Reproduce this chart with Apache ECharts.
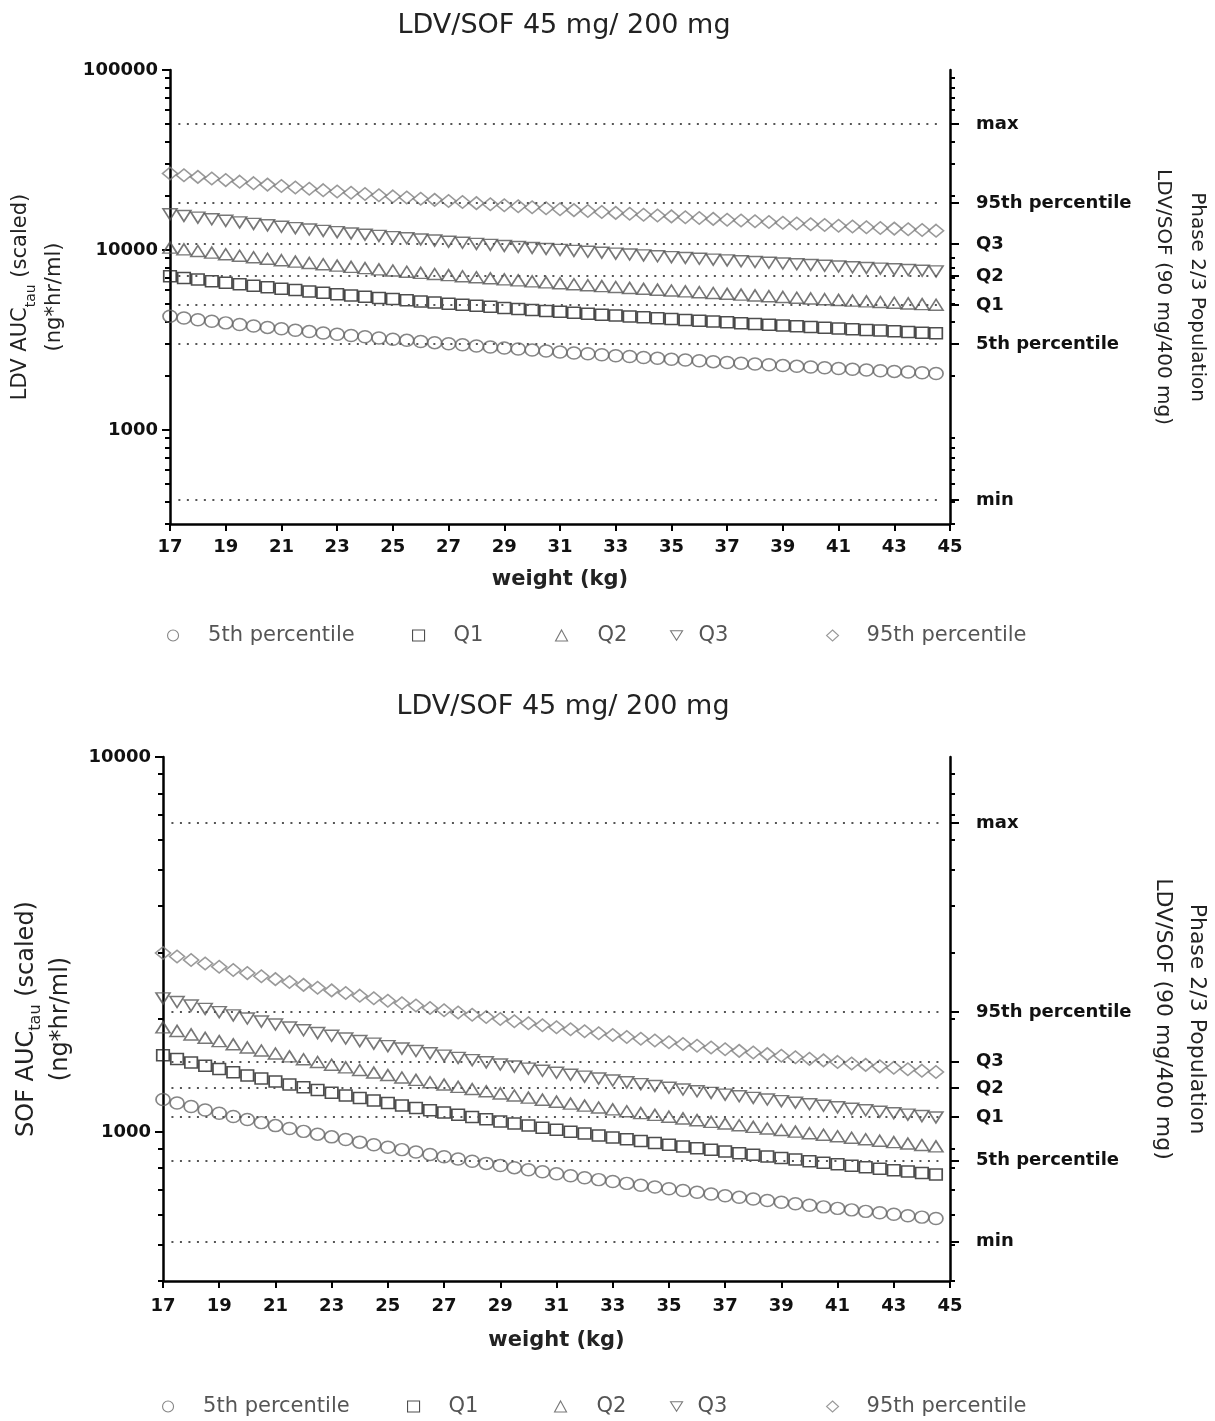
<!DOCTYPE html>
<html>
<head>
<meta charset="utf-8">
<script src="https://cdn.jsdelivr.net/npm/echarts@6/dist/echarts.min.js"></script>
<style>html,body{margin:0;padding:0;background:#fff}#c{width:1215px;height:1421px}</style>
</head>
<body>
<div id="c"></div>
<script>
// ---------- DATA ----------
const weights = [17,17.5,18,18.5,19,19.5,20,20.5,21,21.5,22,22.5,23,23.5,24,24.5,25,25.5,26,26.5,27,27.5,28,28.5,29,29.5,30,30.5,31,31.5,32,32.5,33,33.5,34,34.5,35,35.5,36,36.5,37,37.5,38,38.5,39,39.5,40,40.5,41,41.5,42,42.5,43,43.5,44,44.5];
const seriesNames = ['5th percentile','Q1','Q2','Q3','95th percentile'];
const xTickLabels = [17,19,21,23,25,27,29,31,33,35,37,39,41,43,45];

// Top chart: LDV AUCtau (scaled)
const ldvP5 = [4280,4187,4098,4014,3933,3856,3783,3712,3645,3580,3518,3459,3402,3346,3293,3242,3193,3145,3099,3054,3011,2970,2929,2890,2852,2815,2780,2745,2711,2678,2647,2616,2585,2556,2527,2499,2472,2446,2420,2395,2370,2346,2323,2300,2277,2255,2234,2213,2192,2172,2152,2133,2114,2096,2078,2060];
const ldvQ1 = [7150,6994,6846,6705,6570,6442,6319,6202,6089,5981,5878,5778,5682,5590,5502,5416,5334,5254,5177,5103,5031,4961,4893,4828,4765,4703,4643,4585,4529,4474,4421,4369,4319,4270,4222,4176,4130,4086,4043,4000,3959,3919,3880,3842,3804,3767,3732,3696,3662,3629,3596,3564,3532,3501,3471,3441];
const ldvQ2 = [10300,10076,9862,9659,9465,9280,9103,8934,8772,8616,8467,8324,8186,8053,7925,7802,7683,7569,7458,7350,7247,7146,7049,6955,6864,6775,6689,6606,6525,6446,6369,6294,6222,6151,6082,6015,5950,5886,5824,5763,5704,5646,5589,5534,5480,5427,5376,5325,5276,5227,5180,5134,5088,5044,5000,4957];
const ldvQ3 = [15800,15456,15128,14817,14519,14236,13964,13705,13456,13217,12989,12769,12557,12354,12158,11968,11786,11610,11440,11276,11116,10963,10814,10669,10529,10393,10261,10133,10009,9887,9770,9656,9544,9436,9330,9227,9127,9029,8933,8840,8749,8660,8574,8489,8406,8325,8246,8168,8093,8018,7946,7875,7805,7737,7670,7604];
const ldvP95 = [26600,26020,25469,24944,24444,23966,23509,23072,22653,22252,21867,21496,21140,20798,20468,20149,19842,19546,19260,18983,18715,18456,18205,17962,17726,17497,17275,17059,16850,16646,16448,16256,16068,15885,15708,15534,15365,15201,15040,14883,14730,14580,14434,14292,14152,14016,13882,13752,13624,13500,13377,13257,13140,13025,12912,12802];
const ldvRefLabels = ['max','95th percentile','Q3','Q2','Q1','5th percentile','min'];
const ldvRefValues = [50000,18250,10800,7170,4950,3000,408];
const ldvMajorTicks = [1000,10000,100000];
const ldvMinorTicks = [300,400,500,600,700,800,900,2000,3000,4000,5000,6000,7000,8000,9000,20000,30000,40000,50000,60000,70000,80000,90000];

// Bottom chart: SOF AUCtau (scaled)
const sofP5 = [1220,1193.4,1168.1,1144.1,1121.1,1099.2,1078.2,1058.2,1039,1020.6,1002.9,985.9,969.6,953.9,938.7,924.1,910.1,896.5,883.3,870.6,858.4,846.5,835,823.8,813,802.5,792.3,782.4,772.8,763.5,754.4,745.6,736.9,728.6,720.4,712.5,704.7,697.2,689.8,682.6,675.6,668.7,662,655.5,649.1,642.8,636.7,630.7,624.9,619.2,613.5,608,602.7,597.4,592.2,587.2];
const sofQ1 = [1600,1565.1,1532,1500.4,1470.3,1441.6,1414.1,1387.8,1362.6,1338.5,1315.3,1293,1271.6,1251,1231.1,1212,1193.5,1175.7,1158.5,1141.8,1125.7,1110.1,1095,1080.4,1066.2,1052.4,1039.1,1026.1,1013.5,1001.3,989.4,977.8,966.5,955.5,944.8,934.4,924.2,914.3,904.6,895.2,886,877,868.2,859.6,851.2,843.1,835,827.2,819.5,812,804.6,797.4,790.4,783.5,776.7,770];
const sofQ2 = [1900,1858.6,1819.2,1781.7,1746,1711.9,1679.2,1648,1618.1,1589.4,1561.9,1535.4,1510,1485.6,1462,1439.2,1417.3,1396.1,1375.7,1355.9,1336.8,1318.3,1300.4,1283,1266.1,1249.8,1233.9,1218.5,1203.6,1189,1174.9,1161.1,1147.7,1134.7,1122,1109.6,1097.5,1085.8,1074.3,1063.1,1052.1,1041.4,1031,1020.8,1010.9,1001.1,991.6,982.3,973.2,964.3,955.5,947,938.6,930.4,922.3,914.4];
const sofQ3 = [2270,2220.5,2173.5,2128.7,2086,2045.2,2006.2,1969,1933.2,1898.9,1866.1,1834.5,1804.1,1774.8,1746.7,1719.5,1693.3,1668,1643.6,1620,1597.1,1575,1553.6,1532.8,1512.7,1493.2,1474.2,1455.8,1437.9,1420.5,1403.7,1387.2,1371.2,1355.6,1340.5,1325.7,1311.2,1297.2,1283.5,1270.1,1257,1244.3,1231.8,1219.6,1207.7,1196.1,1184.7,1173.6,1162.7,1152,1141.6,1131.4,1121.4,1111.6,1101.9,1092.5];
const sofP95 = [3000,2934.6,2872.5,2813.3,2756.9,2702.9,2651.4,2602.1,2554.9,2509.6,2466.2,2424.4,2384.3,2345.6,2308.4,2272.5,2237.9,2204.4,2172.1,2140.9,2110.7,2081.5,2053.2,2025.8,1999.1,1973.3,1948.3,1924,1900.4,1877.4,1855.1,1833.3,1812.2,1791.6,1771.5,1752,1732.9,1714.4,1696.2,1678.5,1661.3,1644.4,1627.9,1611.8,1596.1,1580.7,1565.7,1551,1536.6,1522.5,1508.7,1495.2,1482,1469,1456.3,1443.8];
const sofRefLabels = ['max','95th percentile','Q3','Q2','Q1','5th percentile','min'];
const sofRefValues = [6670,2090,1538,1309,1096,837,509];
const sofMajorTicks = [1000,10000];
const sofMinorTicks = [400,500,600,700,800,900,2000,3000,4000,5000,6000,7000,8000,9000];

// ---------- STYLE / LAYOUT ----------
const FONT = 'DejaVu Sans';
const refSpan = [17.3, 44.7];
const markers = [
  {symbol:'circle', size:[14,12], color:'#666'},
  {symbol:'rect', size:[12.5,11], color:'#222'},
  {symbol:'triangle', size:[14,11], color:'#555'},
  {symbol:'path://M0,0 L10,0 L5,8 Z', size:[14,11], color:'#555'},
  {symbol:'diamond', size:[15,12.5], color:'#808080'}
];

function nearestLabel(v, vals, labels) {
  let bi = 0, bd = Infinity;
  vals.forEach((x, i) => { const d = Math.abs(Math.log(x) - Math.log(v)); if (d < bd) { bd = d; bi = i; } });
  return labels[bi];
}

const option = { animation:false, title:[], grid:[], xAxis:[], yAxis:[], series:[], legend:[] };

function addChart(cfg) {
  const g = option.grid.length;
  option.grid.push({ left: cfg.grid[0], top: cfg.grid[1], width: cfg.grid[2], height: cfg.grid[3],
    containLabel: false, outerBoundsMode: 'none' });
  option.title.push({ text: 'LDV/SOF 45 mg/ 200 mg', left: cfg.titlePos[0], top: cfg.titlePos[1], textAlign: 'center',
    textStyle: { fontFamily: FONT, fontWeight: 'normal', fontSize: 27, color: '#222' } });
  option.xAxis.push({
    gridIndex: g, type: 'value', min: 17, max: 45, interval: 2,
    axisLine: { onZero: false, lineStyle: { color: '#000', width: 2.5 } },
    axisTick: { length: 7, lineStyle: { color: '#000', width: 2 } },
    axisLabel: { margin: cfg.xLabelMargin, color: '#111', fontFamily: FONT, fontWeight: 'bold', fontSize: 18,
      formatter: v => (xTickLabels.indexOf(v) >= 0 ? String(v) : '') },
    splitLine: { show: false },
    name: 'weight (kg)', nameLocation: 'middle', nameGap: cfg.xNameGap,
    nameTextStyle: { fontFamily: FONT, fontWeight: 'bold', fontSize: 21, color: '#222' }
  });
  const y0 = option.yAxis.length;
  const common = { gridIndex: g, type: 'log', logBase: 10, min: cfg.min, max: cfg.max, splitLine: { show: false } };
  option.yAxis.push(Object.assign({}, common, {
    position: 'left',
    axisLine: { show: true, lineStyle: { color: '#000', width: 2.5 } },
    axisTick: { show: true, length: 8, lineStyle: { color: '#000', width: 2 }, customValues: cfg.major },
    axisLabel: { customValues: cfg.major, margin: 12, color: '#111', fontFamily: FONT, fontWeight: 'bold', fontSize: 18,
      formatter: v => String(Math.round(v)) },
    name: cfg.leftName, nameLocation: 'middle', nameGap: cfg.leftGap, nameRotate: 90,
    nameTextStyle: { fontFamily: FONT, fontSize: cfg.nameSize, color: '#222', lineHeight: 34,
      rich: { n: { fontFamily: FONT, fontSize: cfg.nameSize, color: '#222', lineHeight: 34 },
              s: { fontFamily: FONT, fontSize: Math.round(cfg.nameSize * 0.68), color: '#222', lineHeight: 16, verticalAlign: 'bottom' } } }
  }));
  option.yAxis.push(Object.assign({}, common, {
    position: 'left', axisLine: { show: false },
    axisTick: { show: true, length: 5, lineStyle: { color: '#000', width: 2 }, customValues: cfg.minor },
    axisLabel: { show: false }
  }));
  option.yAxis.push(Object.assign({}, common, {
    position: 'right',
    axisLine: { show: true, lineStyle: { color: '#000', width: 2.5 } },
    axisTick: { show: true, length: 9, lineStyle: { color: '#000', width: 2 }, customValues: cfg.refValues },
    axisLabel: { customValues: cfg.refValues, margin: 26, color: '#111', fontFamily: FONT, fontWeight: 'bold', fontSize: 18,
      formatter: v => nearestLabel(v, cfg.refValues, cfg.refLabels) },
    name: 'Phase 2/3 Population\nLDV/SOF (90 mg/400 mg)', nameLocation: 'middle', nameGap: cfg.rightGap, nameRotate: -90,
    nameTextStyle: { fontFamily: FONT, fontSize: cfg.rNameSize, color: '#222', lineHeight: 34 }
  }));
  option.yAxis.push(Object.assign({}, common, {
    position: 'right', axisLine: { show: false },
    axisTick: { show: true, length: 5, lineStyle: { color: '#000', width: 2 }, customValues: cfg.minor },
    axisLabel: { show: false }
  }));
  cfg.values.forEach((arr, k) => {
    const m = markers[k];
    const s = {
      type: 'scatter', name: seriesNames[k], xAxisIndex: g, yAxisIndex: y0, silent: true,
      data: weights.map((w, i) => [w, arr[i]]),
      symbol: m.symbol, symbolSize: m.size,
      itemStyle: { color: 'rgba(0,0,0,0)', borderColor: m.color, borderWidth: 1.6 },
      emphasis: { disabled: true }
    };
    if (k === 0) {
      s.markLine = {
        silent: true, symbol: ['none', 'none'], label: { show: false },
        lineStyle: { type: [2, 6.5], color: '#555', width: 1.8 },
        data: cfg.refValues.map(v => [{ coord: [refSpan[0], v] }, { coord: [refSpan[1], v] }])
      };
    }
    option.series.push(s);
  });
  cfg.legendCenters.forEach((c, k) => {
    option.legend.push({
      data: [seriesNames[k]], left: c - 6, top: cfg.legendTop, padding: 0,
      itemWidth: 12, itemHeight: 11, selectedMode: false,
      itemStyle: { borderWidth: 1.1 },
      textStyle: { fontFamily: FONT, fontSize: 21, color: '#555', padding: [0, 0, 0, cfg.legendText[k] - (c + 11)] }
    });
  });
}

addChart({
  grid: [170, 70, 780, 454], titlePos: [559, 7],
  min: 300, max: 100000, major: ldvMajorTicks, minor: ldvMinorTicks,
  refValues: ldvRefValues, refLabels: ldvRefLabels,
  values: [ldvP5, ldvQ1, ldvQ2, ldvQ3, ldvP95],
  leftName: '{n|LDV AUC}{s|tau}{n| (scaled)}\n{n|(ng*hr/ml)}', nameSize: 21, leftGap: 96,
  rightGap: 196, rNameSize: 20,
  xNameGap: 45, xLabelMargin: 14,
  legendCenters: [173, 418, 561, 676, 832], legendText: [208, 453, 597, 698, 866], legendTop: 625
});
addChart({
  grid: [163, 757, 787, 524], titlePos: [558, 688],
  min: 400, max: 10000, major: sofMajorTicks, minor: sofMinorTicks,
  refValues: sofRefValues, refLabels: sofRefLabels,
  values: [sofP5, sofQ1, sofQ2, sofQ3, sofP95],
  leftName: '{n|SOF AUC}{s|tau}{n| (scaled)}\n{n|(ng*hr/ml)}', nameSize: 24, leftGap: 85,
  rightGap: 196, rNameSize: 22,
  xNameGap: 49, xLabelMargin: 16,
  legendCenters: [168, 413, 560, 676, 832], legendText: [203, 448, 596, 697, 866], legendTop: 1396
});

const chart = echarts.init(document.getElementById('c'), null, { renderer: 'canvas' });
chart.setOption(option);
</script>
</body>
</html>
